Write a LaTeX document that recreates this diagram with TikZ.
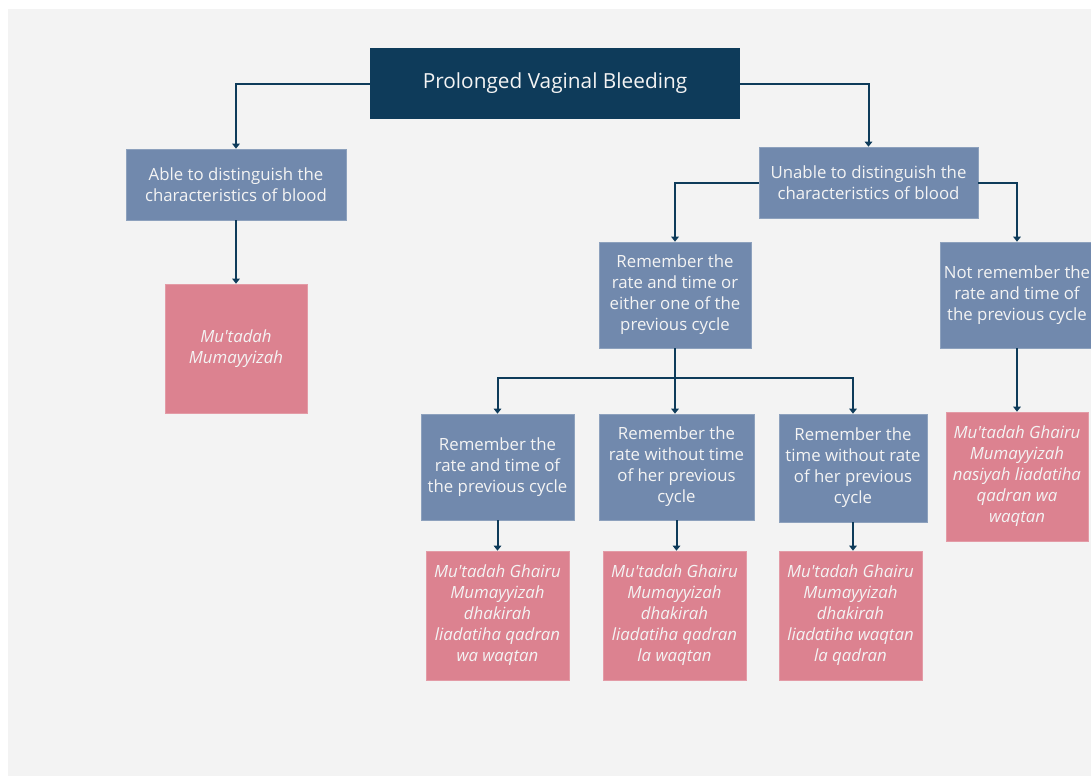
\documentclass[tikz,border=0pt]{standalone}
\usepackage{fontspec}
\setmainfont{Open Sans}
\usetikzlibrary{arrows.meta}
\definecolor{navy}{HTML}{0E3B5A}
\definecolor{slate}{HTML}{7189AD}
\definecolor{rose}{HTML}{DC8290}
\definecolor{bg}{HTML}{F3F3F3}
\definecolor{txt}{HTML}{F4F4F4}
\newcommand{\apos}{\textquotesingle}
\tikzset{
  box/.style={rectangle, inner sep=0pt, align=center, text=txt,
    font=\fontsize{16.8}{21}\selectfont},
  topbox/.style={box, fill=navy, font=\fontsize{20.8}{22}\selectfont},
  qbox/.style={box, fill=slate, draw=slate!80!white, line width=0.6pt},
  rbox/.style={box, fill=rose, draw=rose!80!white, line width=0.6pt,
    font=\fontsize{16.8}{21}\selectfont\itshape},
  arr/.style={draw=navy, line width=2pt, -{Triangle[width=7.5pt,length=5pt]}}
}
\begin{document}
\begin{tikzpicture}[x=1pt,y=-1pt]
\useasboundingbox (0,0) rectangle (1091,776);
\fill[white] (0,0) rectangle (1091,776);
\fill[bg] (8,9) rectangle (1091,776);

\node[topbox, minimum width=370pt, minimum height=71pt] (top) at (555,83.5) {Prolonged Vaginal Bleeding};

\node[qbox, minimum width=220pt, minimum height=71pt] (A) at (236,184.5) {Able to distinguish the\\characteristics of blood};
\node[rbox, minimum width=142pt, minimum height=129pt] (B) at (236,348.5) {Mu\apos tadah\\Mumayyizah};

\node[qbox, minimum width=219pt, minimum height=71pt] (C) at (868.5,182.5) {Unable to distinguish the\\characteristics of blood};

\node[qbox, minimum width=152pt, minimum height=106pt] (D) at (675,295) {Remember the\\rate and time or\\either one of the\\previous cycle};
\node[qbox, minimum width=154pt, minimum height=106pt] (E) at (1017,295) {Not remember the\\rate and time of\\the previous cycle};
\node[rbox, minimum width=142pt, minimum height=129pt] (F) at (1017,476.5) {Mu\apos tadah Ghairu\\Mumayyizah\\nasiyah liadatiha\\qadran wa\\waqtan};

\node[qbox, minimum width=153pt, minimum height=106pt] (G1) at (497.5,467) {Remember the\\rate and time of\\the previous cycle};
\node[qbox, minimum width=155pt, minimum height=106pt] (G2) at (676.5,467) {Remember the\\rate without time\\of her previous\\cycle};
\node[qbox, minimum width=148pt, minimum height=108pt] (G3) at (853,468) {Remember the\\time without rate\\of her previous\\cycle};

\node[rbox, minimum width=143pt, minimum height=129pt] (H1) at (497.5,615.5) {Mu\apos tadah Ghairu\\Mumayyizah\\dhakirah\\liadatiha qadran\\wa waqtan};
\node[rbox, minimum width=143pt, minimum height=129pt] (H2) at (674.5,615.5) {Mu\apos tadah Ghairu\\Mumayyizah\\dhakirah\\liadatiha qadran\\la waqtan};
\node[rbox, minimum width=143pt, minimum height=129pt] (H3) at (850.5,615.5) {Mu\apos tadah Ghairu\\Mumayyizah\\dhakirah\\liadatiha waqtan\\la qadran};

\draw[arr] (top.west) -| (A.north);
\draw[arr] (top.east) -| (C.north);
\draw[arr] (A.south) -- (B.north);
\draw[arr] (C.west) -| (D.north);
\draw[arr] (C.east) -| (E.north);
\draw[arr] (E.south) -- (F.north);

\coordinate (j) at (675,378);
\draw[arr] (D.south) -- (D.south |- G2.north);
\draw[arr] (j) -| (G1.north);
\draw[arr] (j) -| (G3.north);

\draw[arr] (G1.south) -- (H1.north);
\draw[arr] (G2.south) -- (G2.south |- H2.north);
\draw[arr] (G3.south) -- (G3.south |- H3.north);
\end{tikzpicture}
\end{document}
